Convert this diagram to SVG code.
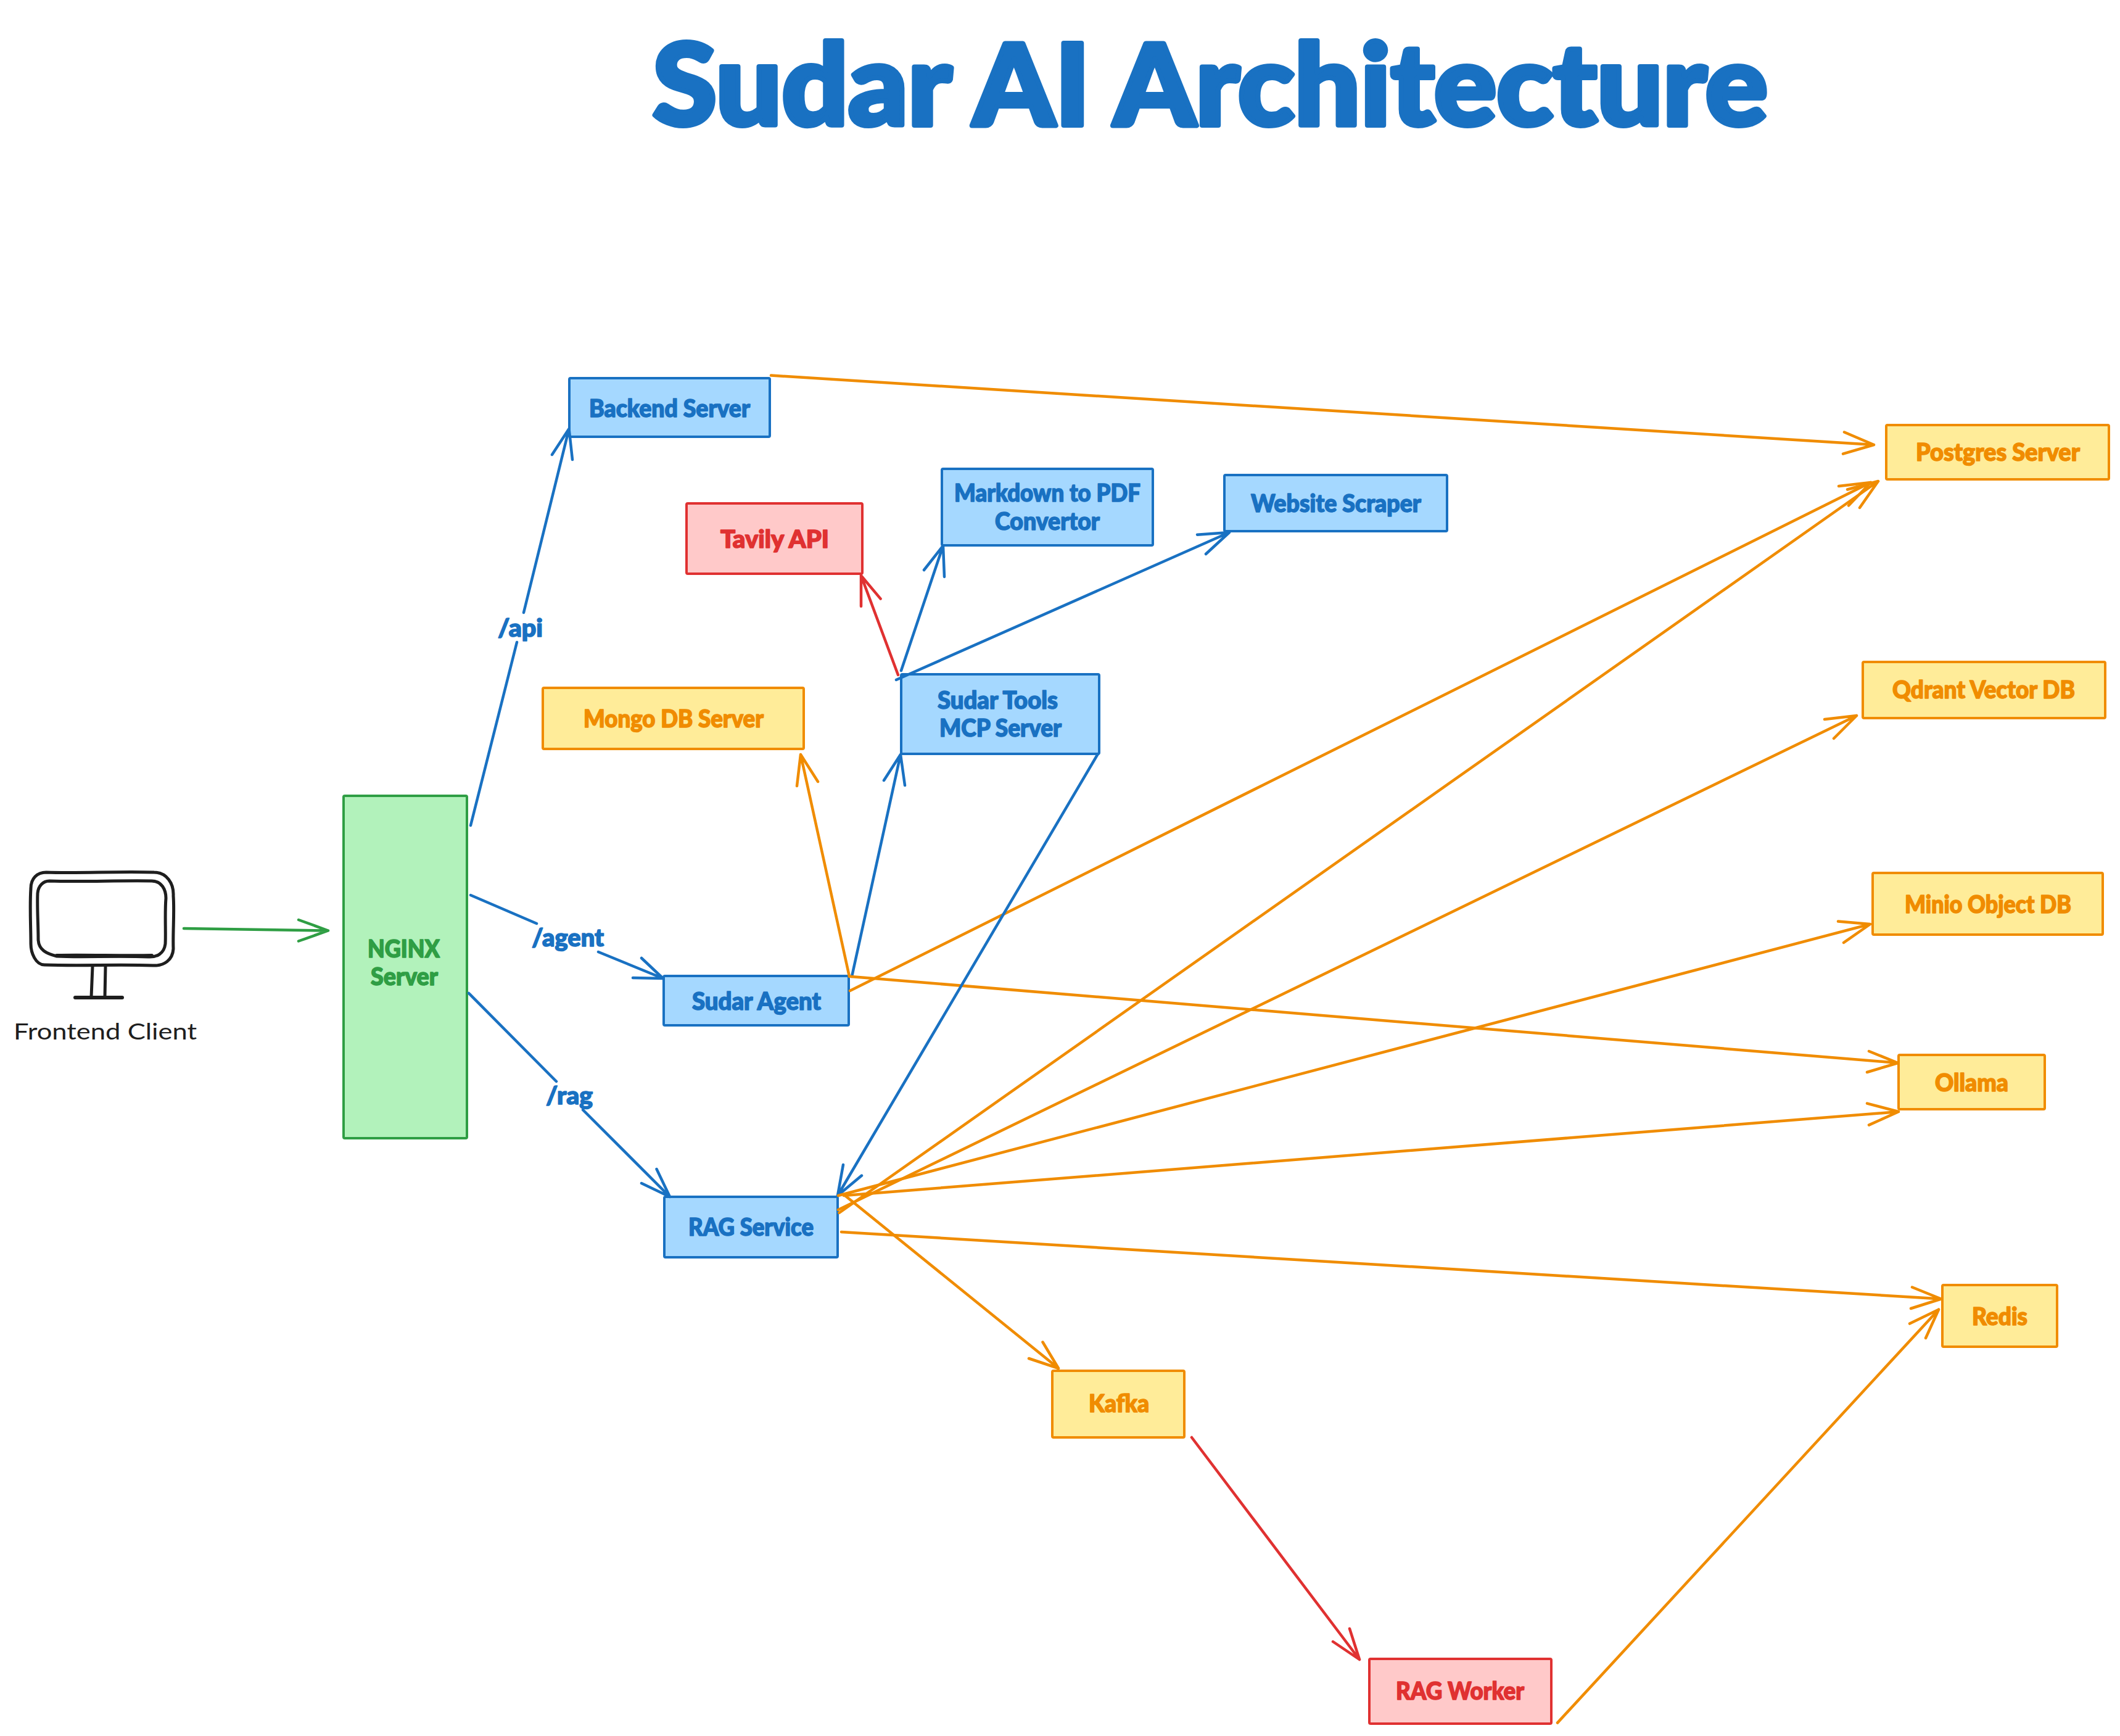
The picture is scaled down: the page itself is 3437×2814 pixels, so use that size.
<svg xmlns="http://www.w3.org/2000/svg" width="3437" height="2814" viewBox="0 0 3437 2814">
<style>
.n{stroke-width:4;stroke-linejoin:round}
.t{font-family:"Lato","Liberation Sans",sans-serif;font-weight:900;font-size:39px;stroke-width:1.6;stroke-linejoin:round}
.b .n{fill:#a5d8ff;stroke:#1971c2}.b .t{fill:#1971c2;stroke:#1971c2}
.o .n{fill:#ffec99;stroke:#f08c00}.o .t{fill:#f08c00;stroke:#f08c00}
.g .n{fill:#b2f2bb;stroke:#2f9e44}.g .t{fill:#2f9e44;stroke:#2f9e44}
.r .n{fill:#ffc9c9;stroke:#e03131}.r .t{fill:#e03131;stroke:#e03131}
.c{fill:none;stroke-width:4.500;stroke-linecap:round;stroke-linejoin:round}
.cb{stroke:#1971c2}.co{stroke:#f08c00}.cr{stroke:#e03131}.cg{stroke:#2f9e44}
.m{fill:none;stroke:#1e1e1e;stroke-width:5;stroke-linecap:round;stroke-linejoin:round}
</style>
<rect width="3437" height="2814" fill="#fff"/>
<text id="title" x="1058" y="203" textLength="1808" lengthAdjust="spacingAndGlyphs" style="font-family:'Lato','Liberation Sans',sans-serif;font-weight:900;font-size:183px;fill:#1971c2;stroke:#1971c2;stroke-width:8;stroke-linejoin:round">Sudar AI Architecture</text>

<g id="frontend-client">
<path class="m" d="M75 1414C130 1416 190 1412 250 1414C270 1414 282 1432 281 1452C283 1480 280 1510 281 1538C280 1556 266 1566 248 1565C190 1563 130 1566 72 1564C58 1564 50 1545 50 1530C50 1500 48 1470 50 1440C50 1424 60 1414 75 1414Z"/>
<path class="m" d="M80 1428C130 1430 190 1427 246 1428C262 1428 269 1442 269 1456C267 1480 269 1510 268 1530C266 1546 254 1552 240 1551C190 1549 130 1552 92 1550C76 1546 62 1540 62 1522C62 1500 60 1470 61 1448C62 1436 70 1428 80 1428Z"/>
<path class="m" style="stroke-width:6" d="M92 1549C140 1548 200 1550 246 1549"/>
<path class="m" d="M150 1567L148 1616M171 1567L170 1616"/>
<path class="m" style="stroke-width:6" d="M122 1617L198 1617"/>
<text x="22" y="1685" textLength="297" lengthAdjust="spacingAndGlyphs" style="font-family:'Lato','Liberation Sans',sans-serif;font-size:37px;fill:#1e1e1e">Frontend Client</text>
</g>

<g id="nginx" class="g"><rect class="n" x="557" y="1290" width="200" height="555" rx="2"/>
<text class="t" x="596" y="1552" textLength="117" lengthAdjust="spacingAndGlyphs">NGINX</text>
<text class="t" x="601" y="1597" textLength="109" lengthAdjust="spacingAndGlyphs">Server</text></g>

<g id="backend" class="b"><rect class="n" x="923" y="613" width="325" height="95" rx="2"/>
<text class="t" x="955" y="676" textLength="261" lengthAdjust="spacingAndGlyphs">Backend Server</text></g>

<g id="tavily" class="r"><rect class="n" x="1113" y="816" width="285" height="114" rx="2"/>
<text class="t" x="1168" y="888" textLength="176" lengthAdjust="spacingAndGlyphs">Tavily API</text></g>

<g id="markdown" class="b"><rect class="n" x="1527" y="760" width="342" height="124" rx="2"/>
<text class="t" x="1547" y="813" textLength="302" lengthAdjust="spacingAndGlyphs">Markdown to PDF</text>
<text class="t" x="1613" y="859" textLength="170" lengthAdjust="spacingAndGlyphs">Convertor</text></g>

<g id="scraper" class="b"><rect class="n" x="1985" y="770" width="361" height="91" rx="2"/>
<text class="t" x="2028" y="830" textLength="276" lengthAdjust="spacingAndGlyphs">Website Scraper</text></g>

<g id="mongo" class="o"><rect class="n" x="880" y="1115" width="423" height="99" rx="2"/>
<text class="t" x="946" y="1179" textLength="292" lengthAdjust="spacingAndGlyphs">Mongo DB Server</text></g>

<g id="tools" class="b"><rect class="n" x="1461" y="1093" width="321" height="129" rx="2"/>
<text class="t" x="1520" y="1149" textLength="195" lengthAdjust="spacingAndGlyphs">Sudar Tools</text>
<text class="t" x="1523" y="1194" textLength="198" lengthAdjust="spacingAndGlyphs">MCP Server</text></g>

<g id="agent" class="b"><rect class="n" x="1076" y="1582" width="300" height="80" rx="2"/>
<text class="t" x="1122" y="1637" textLength="209" lengthAdjust="spacingAndGlyphs">Sudar Agent</text></g>

<g id="rag" class="b"><rect class="n" x="1077" y="1940" width="281" height="98" rx="2"/>
<text class="t" x="1116" y="2003" textLength="203" lengthAdjust="spacingAndGlyphs">RAG Service</text></g>

<g id="kafka" class="o"><rect class="n" x="1706" y="2222" width="214" height="108" rx="2"/>
<text class="t" x="1765" y="2289" textLength="98" lengthAdjust="spacingAndGlyphs">Kafka</text></g>

<g id="worker" class="r"><rect class="n" x="2220" y="2689" width="295" height="105" rx="2"/>
<text class="t" x="2263" y="2755" textLength="208" lengthAdjust="spacingAndGlyphs">RAG Worker</text></g>

<g id="postgres" class="o"><rect class="n" x="3058" y="689" width="361" height="88" rx="2"/>
<text class="t" x="3106" y="747" textLength="266" lengthAdjust="spacingAndGlyphs">Postgres Server</text></g>

<g id="qdrant" class="o"><rect class="n" x="3020" y="1073" width="393" height="91" rx="2"/>
<text class="t" x="3068" y="1132" textLength="296" lengthAdjust="spacingAndGlyphs">Qdrant Vector DB</text></g>

<g id="minio" class="o"><rect class="n" x="3036" y="1415" width="373" height="100" rx="2"/>
<text class="t" x="3088" y="1480" textLength="270" lengthAdjust="spacingAndGlyphs">Minio Object DB</text></g>

<g id="ollama" class="o"><rect class="n" x="3078" y="1710" width="237" height="88" rx="2"/>
<text class="t" x="3137" y="1769" textLength="119" lengthAdjust="spacingAndGlyphs">Ollama</text></g>

<g id="redis" class="o"><rect class="n" x="3149" y="2083" width="186" height="100" rx="2"/>
<text class="t" x="3197" y="2148" textLength="90" lengthAdjust="spacingAndGlyphs">Redis</text></g>

<g id="connectors">
<path class="c cg" d="M298 1505L532 1508.500M484 1491L532 1508.500L484 1525.500"/>
<path class="c cb" d="M763 1338L838 1041M849 993L922.500 695M895 737L922.500 695L928 745"/>
<path class="c cb" d="M763 1451L870 1497M970 1543L1075 1586M1040 1553L1075 1586L1026 1585"/>
<path class="c cb" d="M760 1610L902 1753M945 1799L1086 1940M1064.500 1895L1086 1940L1040 1918"/>
<path class="c co" d="M1250 608.600L3038 721M2990 700.500L3038 721L2988 735.700"/>
<path class="c cr" d="M1456 1094L1396 933M1427.600 970.600L1396 933L1396 982.700"/>
<path class="c cb" d="M1461 1087L1529 884.500M1498 924L1529 884.500L1531 935"/>
<path class="c cb" d="M1453 1102L1993 863M1941 866.700L1993 863L1955 898"/>
<path class="c co" d="M1377 1583L1298 1223M1292 1274L1298 1223L1326 1267"/>
<path class="c cb" d="M1381 1583L1460 1223M1433 1265L1460 1223L1467 1273"/>
<path class="c co" d="M1380 1583L3077 1723M3030 1704L3077 1723L3027 1738"/>
<path class="c co" d="M1378 1606L3033 782M2981 788L3033 782L2997 819.500"/>
<path class="c cb" d="M1780 1222L1358 1938M1367 1888L1358 1938L1397 1905.600"/>
<path class="c co" d="M1360.500 1966L3045 780M2995 793.500L3045 780L3015 823"/>
<path class="c co" d="M1359 1961L3010 1160M2958 1166L3010 1160L2973 1197"/>
<path class="c co" d="M1359 1938L3032 1498M2980 1493.500L3032 1498L2989 1528"/>
<path class="c co" d="M1368 1938L3078 1802M3027 1788.600L3078 1802L3030 1823.600"/>
<path class="c co" d="M1370 1938L1716 2218M1690.500 2175.500L1716 2218L1668 2202"/>
<path class="c co" d="M1364 1997L3147 2105.500M3100 2086.500L3147 2105.500L3098 2121"/>
<path class="c cr" d="M1932 2330L2204 2690M2188 2640L2204 2690L2161 2661"/>
<path class="c co" d="M2525 2792.600L3143 2122.700M3096 2145.600L3143 2122.700L3122 2169"/>
<g class="b">
<text class="t" x="807" y="1032" textLength="73" lengthAdjust="spacingAndGlyphs">/api</text>
<text class="t" x="862" y="1534" textLength="117" lengthAdjust="spacingAndGlyphs">/agent</text>
<text class="t" x="885" y="1790" textLength="76" lengthAdjust="spacingAndGlyphs">/rag</text>
</g>
</g>
</svg>
